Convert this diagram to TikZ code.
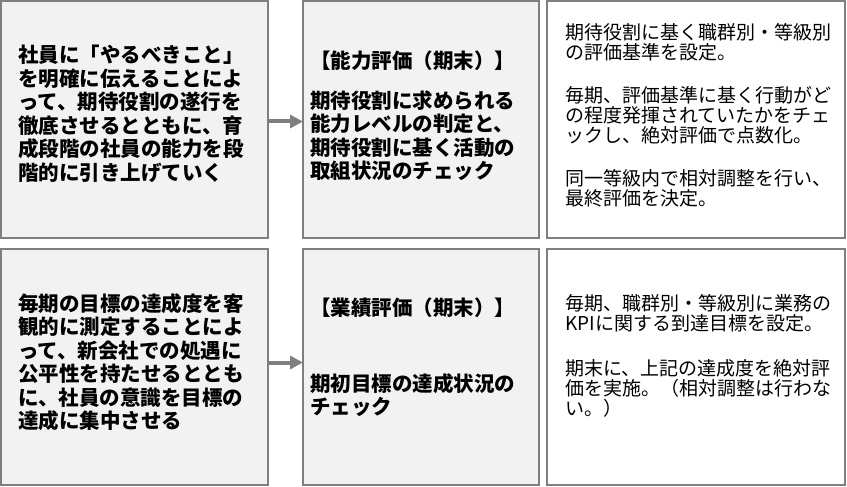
\documentclass[tikz,border=0pt]{standalone}
\usepackage{fontspec}
\setmainfont{Noto Sans CJK JP}
\usepackage{tikz}
\usetikzlibrary{arrows.meta,positioning}
\definecolor{boxgray}{HTML}{F2F2F2}
\definecolor{linegray}{HTML}{7F7F7F}

\begin{document}
\begin{tikzpicture}[x=1pt,y=1pt,->,>={Triangle[length=13pt,width=13pt]},
    box/.style={draw=linegray,line width=2pt,fill=boxgray,outer sep=0pt,
      inner sep=0pt,minimum height=236pt},
    strong/.style={align=left,inner sep=0pt,anchor=west,
      font=\fontsize{20.5pt}{23.5pt}\selectfont\bfseries},
    plain/.style={align=left,inner sep=0pt,anchor=west,
      font=\fontsize{19pt}{20pt}\selectfont},
    flow/.style={draw=linegray,line width=4pt}]
    \useasboundingbox (0,0) rectangle (847,-487);

    \node[box,minimum width=267pt] (goal1) at (134.5,-119.5) {};
    \node[box,minimum width=236pt] (eval1) [right=35pt of goal1] {};
    \node[box,minimum width=298pt,fill=white] (note1) [right=8pt of eval1] {};

    \node[box,minimum width=267pt] (goal2) [below=11pt of goal1] {};
    \node[box,minimum width=236pt] (eval2) [right=35pt of goal2] {};
    \node[box,minimum width=298pt,fill=white] (note2) [right=8pt of eval2] {};

    \node[strong] (goal1text) at ([xshift=17pt,yshift=5.5pt]goal1.west)
    {社員に「やるべきこと」\\を明確に伝えることによ\\って、期待役割の遂行を\\徹底させるとともに、育\\成段階の社員の能力を段\\階的に引き上げていく};
    \node[strong] (eval1text) at ([xshift=7pt,yshift=3.5pt]eval1.west)
    {【能力評価（期末）】\\[16pt]期待役割に求められる\\能力レベルの判定と、\\期待役割に基く活動の\\取組状況のチェック};
    \node[plain] (note1text) at ([xshift=18pt,yshift=4.5pt]note1.west)
    {期待役割に基く職群別・等級別\\の評価基準を設定。\\[23pt]毎期、評価基準に基く行動がど\\の程度発揮されていたかをチェ\\ックし、絶対評価で点数化。\\[23pt]同一等級内で相対調整を行い、\\最終評価を決定。};

    \node[strong] (goal2text) at ([xshift=17pt,yshift=4.3pt]goal2.west)
    {毎期の目標の達成度を客\\観的に測定することによ\\って、新会社での処遇に\\公平性を持たせるととも\\に、社員の意識を目標の\\達成に集中させる};
    \node[strong] (eval2text) at ([xshift=7pt,yshift=9pt]eval2.west)
    {【業績評価（期末）】\\[52pt]期初目標の達成状況の\\チェック};
    \node[plain] (note2text) at ([xshift=18pt,yshift=10.7pt]note2.west)
    {毎期、職群別・等級別に業務の\\KPIに関する到達目標を設定。\\[25pt]期末に、上記の達成度を絶対評\\価を実施。（相対調整は行わな\\い。）};

    \draw[flow] ([yshift=-2pt]goal1.east) -- ([yshift=-2pt]eval1.west);
    \draw[flow] ([yshift=4pt]goal2.east) -- ([yshift=4pt]eval2.west);
\end{tikzpicture}
\end{document}
